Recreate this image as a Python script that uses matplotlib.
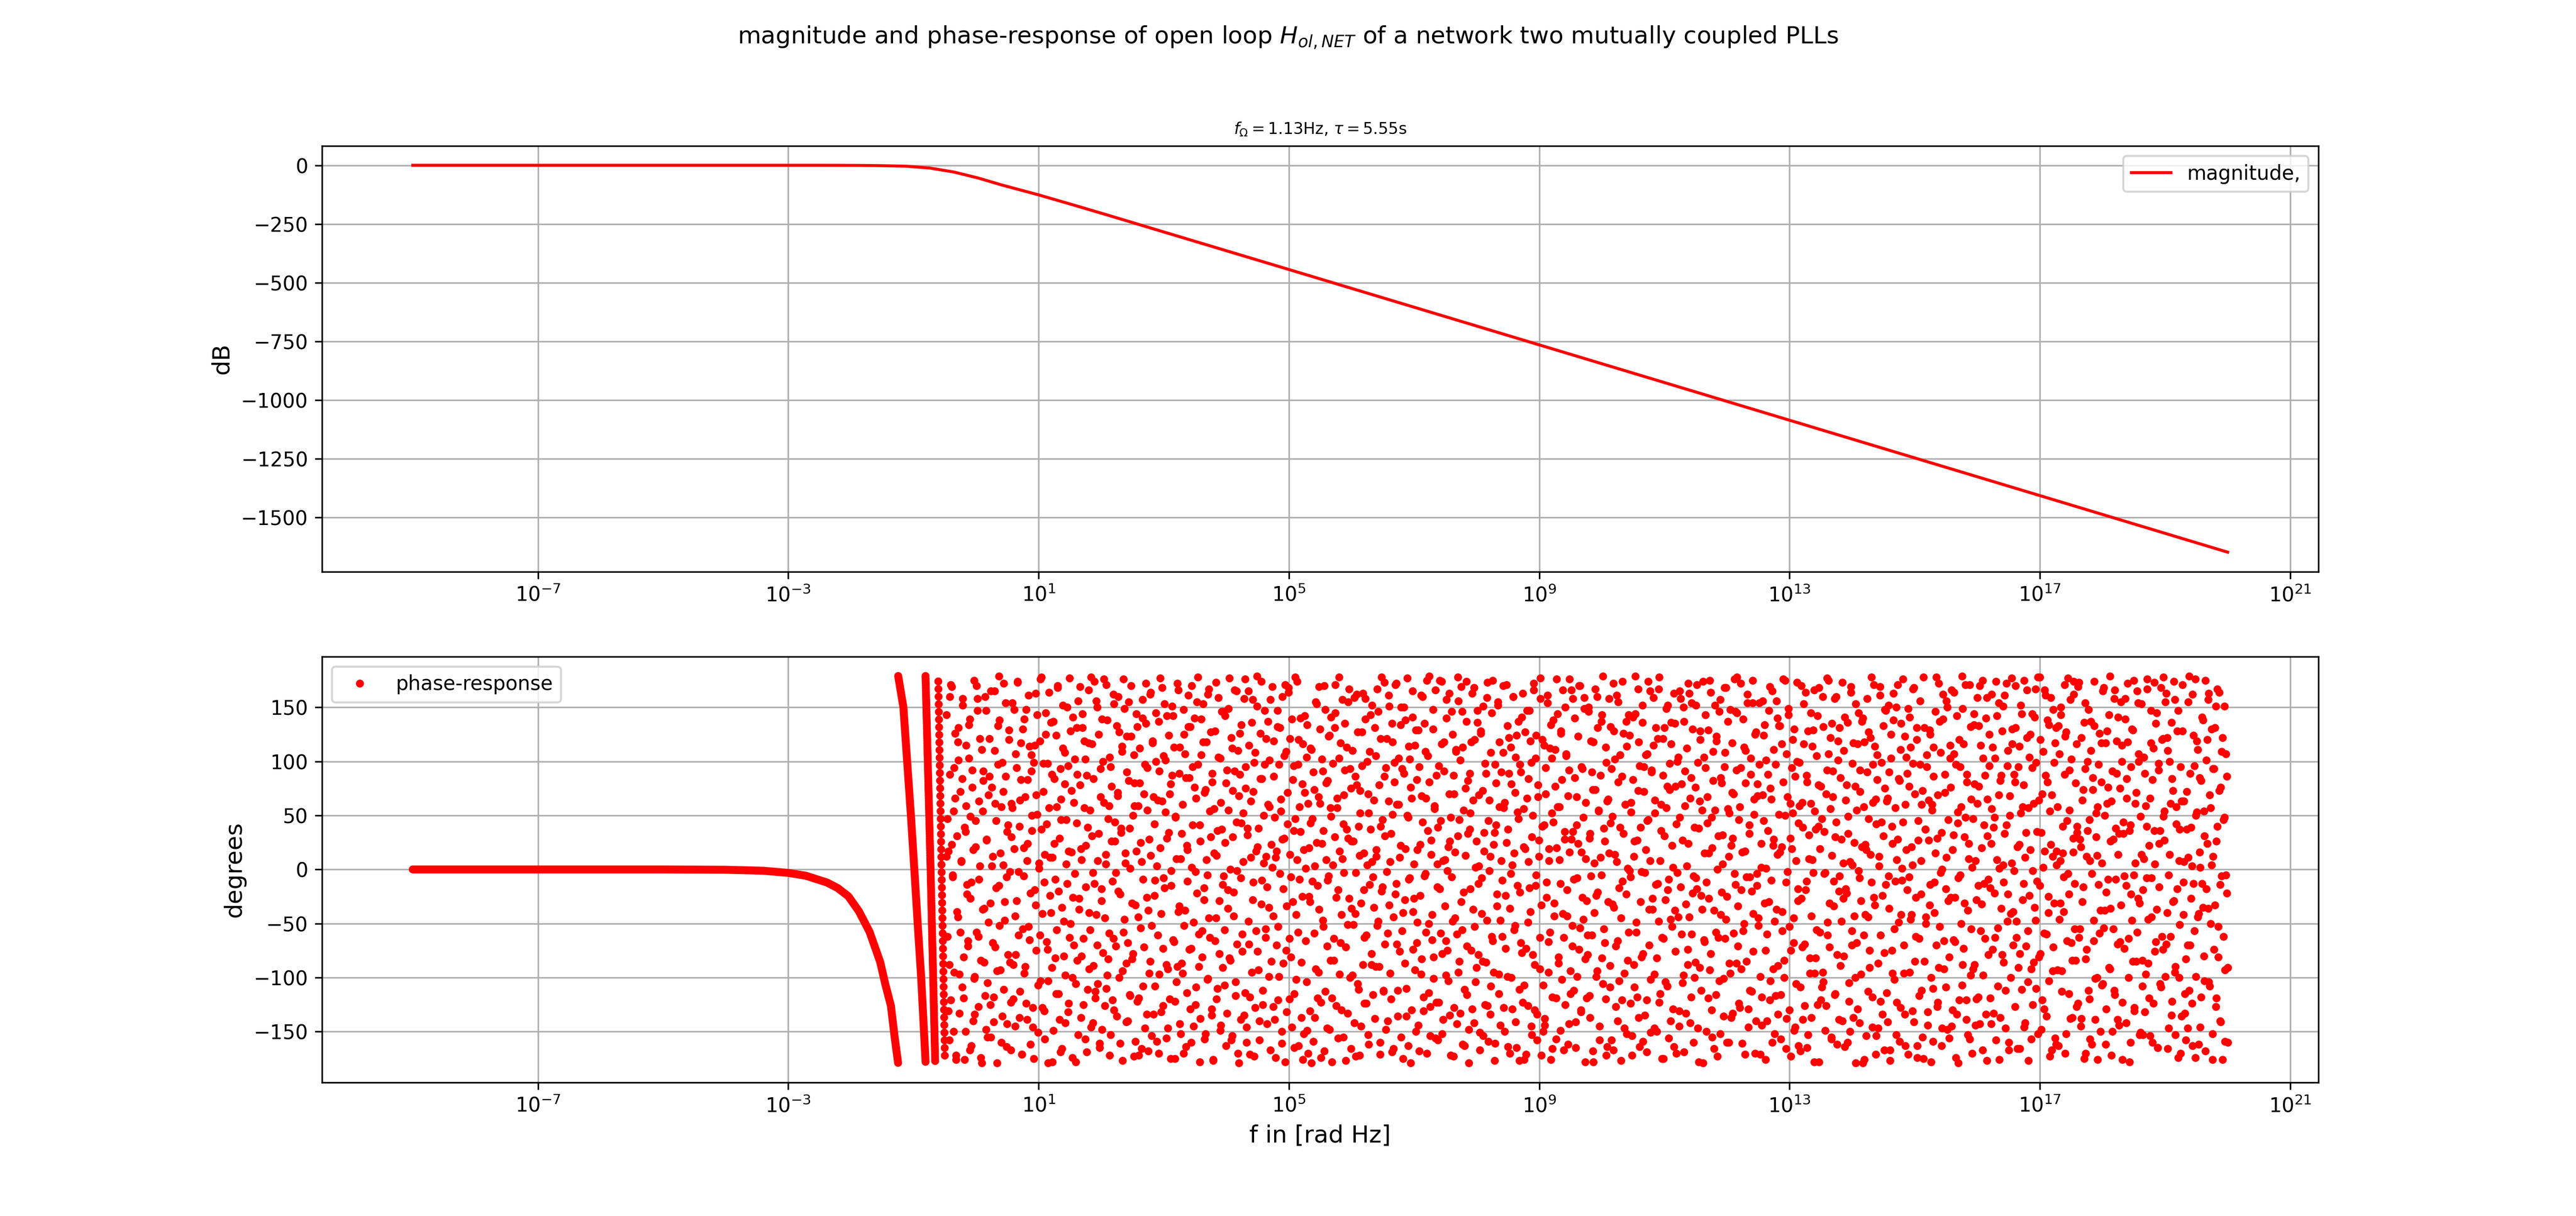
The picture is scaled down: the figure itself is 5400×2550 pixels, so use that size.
import numpy as np
import matplotlib
matplotlib.use('Agg')
import matplotlib.pyplot as plt

# magnitude of H_ol,NET: log10(f) and dB
mag_logf = [-9, -2.5, -1.9, -1.5, -1.113, -0.732, -0.35, 0.031, 0.412, 1.0,
            1.555, 2.089, 3, 5, 9, 13, 17, 20]
mag_db = [0, 0, -0.5, -1.8, -4, -12, -29, -54, -84, -126,
          -169, -211, -284, -444, -765, -1086, -1407, -1648]

# phase, first branch (0 down to -180 deg), log10(f) and degrees
ph1_logf = [-9, -5, -4, -3.4, -3.0, -2.72, -2.38, -2.21, -2.04, -1.87,
            -1.70, -1.53, -1.45, -1.36, -1.30, -1.245]
ph1_deg = [0, 0, -0.3, -1.2, -3.2, -5.8, -12.1, -17.2, -24.8, -38.8,
           -57.8, -85.8, -106, -126, -155, -179]

# second branch after the wrap (+180 down to -180)
ph2_logf = [-1.243, -1.16, -1.10, -1.04, -0.985, -0.932, -0.876, -0.831, -0.806]
ph2_deg = [179, 150, 100, 50, 0, -50, -100, -150, -178]

# third and fourth wraps, nearly vertical columns of dots
ph3_logf = [-0.806, -0.730, -0.652]
ph3_deg = [179, 10, -179]
ph4_logf = [-0.602, -0.497]
ph4_deg = [174, -175]

# the rest is a cloud of dots spread over +-180 deg, log10(f) from -0.47 to 20
# single dots cannot be read, these two lists are estimates of how they spread
cloud_logf = (-0.47, 20.0)
cloud_deg_a = [
    143, -62, 17, -158, 88, -121, 169, -7, 54, -95, 126, -176, 31, -44, 101, -133, 72, 8, -109, 158, -81, 39, -150, 115, -23,
    -66, 134, -167, 49, -12, 92, -140, 175, -99, 21, -58, 147, -127, 63, 3, -174, 111, -37, 82, -86, 160, -148, 27, -105, 69,
    121, -31, -155, 76, 12, -118, 165, -72, 45, -179, 97, -15, 138, -93, 58, -136, 4, 172, -47, 86, -164, 35, -79, 129, -2,
    -123, 61, 154, -88, 19, -145, 107, -29, 173, -61, 40, -113, 83, -171, 130, -6, -96, 67, 148, -139, 24, -53, 114, -162, 91,
    36, -128, 99, -19, 163, -75, 51, -151, 6, 119, -103, 178, -41, 72, -131, 14, 145, -67, 98, -179, 57, -24, 136, -91, 11,
    -149, 84, -9, 124, -56, 170, -115, 29, -169, 65, -35, 152, -80, 108, -142, 46, -13, 96, -124, 177, -50, 16, -100, 141, -70,
    102, -178, 43, -84, 156, -27, 78, -137, 9, 131, -64, 119, -157, 22, 87, -111, 166, -40, 55, -146, 116, -3, -89, 174, -119,
    -42, 150, -106, 33, -165, 93, -18, 139, -77, 62, -126, 5, 171, -98, 47, -59, 104, -153, 77, -11, 162, -130, 26, -71, 133,
    68, -20, 127, -161, 38, 109, -94, 176, -46, 15, -141, 90, -68, 155, -116, 1, 123, -83, 50, -173, 80, -33, 144, -122, 59,
    -172, 112, -54, 7, 157, -108, 70, -147, 135, -26, 94, -168, 28, -85, 164, -52, 117, -134, 42, -10, 100, -159, 64, 137, -97,
    20, -132, 168, -73, 105, -17, 53, -156, 142, -92, 34, -120, 79, -1, 151, -65, 113, -175, 48, -104, 172, -39, 89, -143, 10,
    -87, 60, -170, 125, -38, 85, -114, 18, 161, -74, 132, -160, 2, 95, -49, 140, -125, 66, -22, 178, -90, 41, -138, 106, -57,
    153, -28, 71, -152, 118, -5, -101, 167, -63, 30, -129, 81, -177, 56, 128, -45, 13, -110, 159, -78, 103, -144, 37, -14, 146,
    -107, 25, -163, 92, -36, 149, -82, 0, 122, -154, 73, -21, 166, -117, 44, -69, 110, -179, 88, -8, 134, -60, 52, -135, 176,
    75, -146, 32, -48, 115, -171, 63, -95, 157, -12, 99, -128, 17, 179, -76, 38, -158, 126, -32, 84, -112, 6, 147, -55, 121,
    -16, 137, -99, 58, -167, 23, 169, -43, 86, -139, 11, -70, 132, -121, 97, -4, 54, -150, 160, -87, 29, -178, 109, -34, 71,
    164, -120, 14, -81, 139, -30, 96, -165, 47, -102, 174, -58, 120, -9, 35, -137, 79, -176, 18, 142, -66, 104, -149, 61, -25,
    -131, 43, 111, -11, -159, 74, 3, -92, 153, -119, 67, -37, 130, -174, 24, 91, -53, 170, -113, 9, -147, 82, -6, 124, -84,
    49, -178, 98, -64, 30, 145, -126, 57, -19, 178, -97, 117, -42, 10, -155, 69, 135, -72, 37, -133, 155, -27, 93, -166, 26,
    110, -51, -142, 86, -3, 162, -106, 40, -172, 73, -31, 127, -88, 15, -124, 158, -61, 100, -153, 52, -14, 143, -78, 7, -116,
    -35, 131, -90, 12, 167, -48, 78, -160, 121, -20, 46, -112, 173, -69, 94, -2, -140, 63, 151, -96, 33, -169, 118, -44, 81,
    171, -13, 60, -136, 103, -76, 22, 150, -57, -175, 89, -28, 138, -110, 50, -163, 114, -8, 76, -130, 165, -39, 5, -93, 129,
    -68, 18, -144, 95, -24, 161, -83, 44, -118, 135, -4, 66, -170, 105, -50, 179, -127, 27, -65, 148, -101, 59, -156, 87, -16,
    39, -123, 175, -59, 116, -152, 8, 91, -34, -98, 140, -75, 21, 163, -135, 48, -7, 125, -173, 70, -45, 111, -143, 31, 156,
    -85, 101, -30, 146, -162, 55, -111, 13, 174, -71, 82, -148, 37, -18, 118, -129, 64, 168, -53, -104, 26, 136, -79, 3, -167,
    128, -41, 73, -154, 17, 98, -86, 159, -126, 45, -1, -134, 108, -62, 175, -95, 34, -161, 80, -23, 152, -115, 58, -47, 90,
    -10, 170, -128, 62, -73, 25, 133, -164, 89, -36, 113, -100, 4, 160, -56, 71, -141, 124, -15, 47, -177, 97, -68, 141, -123,
    56, -107, 19, -171, 147, -49, 84, -17, 119, -145, 30, -79, 166, -130, 103, -5, -158, 67, 12, -92, 177, -33, 120, -150, 41,
    -138, 94, -26, 154, -67, 8, 112, -176, 52, -118, 138, -43, 77, -157, 20, 144, -87, 58, -13, 128, -102, 166, -63, 35, -125,
    107, -19, 68, -143, 176, -94, 28, -52, 158, -112, 85, -165, 41, -8, 123, -74, 170, -132, 16, 93, -46, 149, -178, 62, -29,
    -61, 146, -117, 33, -6, 90, -168, 118, -40, 74, -99, 160, -21, 54, -145, 11, 137, -82, 179, -55, 26, -120, 99, -164, 65,
    15, -89, 132, -158, 49, 172, -35, 102, -127, 7, -66, 155, -103, 39, -177, 86, -11, 126, -147, 60, -23, 114, -84, 143, -1,
    -124, 53, -172, 83, 12, -109, 144, -58, 27, 167, -137, 96, -30, -81, 136, -159, 72, -3, 106, -121, 45, 174, -70, 8, -151,
    92, -37, 159, -97, 64, -14, -150, 121, -48, 178, -115, 36, -63, 87, -175, 131, -28, 57, -108, 152, -9, 74, -140, 116, -53,
    2, -164, 135, -76, 42, 100, -44, -131, 165, -16, 79, -105, 150, -169, 59, -32, 112, -88, 24, 163, -142, 85, -60, 130, -6,
    -100, 76, -8, 171, -147, 38, -91, 128, -24, 55, -179, 104, -67, 143, -12, 67, -119, 15, 175, -78, 48, -155, 109, -38, 152,
    -58, 119, -173, 31, -103, 157, -42, 80, 5, -136, 95, -64, 168, -25, 137, -160, 52, -96, 22, 117, -133, 70, -4, 146, -87,
    178, -71, 46, -128, 94, -19, -161, 139, -50, 17, 110, -85, 162, -146, 33, -7, 88, -113, 154, -41, 65, -170, 127, -15, 79,
    -45, 154, -99, 2, -144, 69, 124, -31, -176, 101, -60, 36, 147, -121, 75, -10, 165, -92, 28, -152, 97, -37, 140, -134, 51,
    133, -116, 21, -57, 176, -84, 50, -166, 107, -2, 149, -130, 61, -75, 19, 120, -45, -149, 86, -106, 173, -18, 43, 99, -168,
    -27, 62, -139, 116, -69, 164, -11, 81, -153, 32, -96, 145, -43, 9, 129, -178, 54, -82, 105, -125, 40, 168, -58, 77, -109,
    160, -104, 35, -3, -126, 92, -49, 175, -72, 122, -157, 13, 67, -34, 158, -115, 44, -162, 101, -20, 131, -89, 28, -140, 6,
    -80, 141, -18, 78, -160, 49, -122, 7, 169, -57, 98, -137, 25, -100, 153, -68, 116, -1, -142, 72, -29, 137, -179, 58, 118,
    23, -154, 90, -44, 127, -91, 14, 178, -118, 62, -26, 114, -171, 42, 83, -147, 3, 161, -61, 99, -134, 31, -77, 148, -14,
    -114, 66, 152, -36, -167, 103, -75, 24, 138, -102, 57, -153, 9, 171, -49, 82, -128, 135, -10, 44, -96, 123, -163, 18, 89,
    149, -7, -95, 113, -42, 4, 167, -141, 70, -62, 131, -174, 27, -117, 97, -23, 60, -155, 178, -85, 37, -44, 106, -132, 64,
    -33, 125, -178, 55, -110, 86, -12, 146, -70, 29, -123, 172, -53, 108, -163, 0, 139, -92, 71, -18, 156, -148, 46, -81, 115,
    76, -145, 18, -65, 164, -26, 97, -134, 43, -179, 120, -5, 58, -107, 149, -73, 30, 171, -121, 88, -38, 10, -157, 132, -55,
    -170, 47, 134, -88, 8, -120, 159, -15, 77, -143, 115, -32, 175, -98, 41, -64, 140, -177, 65, -9, 96, -119, 24, 162, -74,
    39, -22, 103, -158, 142, -54, 69, 1, -137, 87, -79, 151, -12, 33, -112, 172, -48, 110, -167, 50, -100, 6, 130, -39, 88,
    -127, 170, -63, 21, -91, 114, -166, 52, 144, -28, 78, -146, 11, -71, 166, -104, 57, -24, 125, -157, 94, -1, -86, 141, -47,
    99, -11, -152, 64, 178, -78, 34, -121, 109, -59, 17, 161, -136, 81, -40, 134, -173, 23, 69, -94, 148, -31, 117, -162, 4,
    -93, 133, -46, 8, 150, -113, 40, -7, 88, -170, 127, -66, 177, -23, 55, -138, 102, -84, 16, 162, -55, 80, -127, 34, 169,
    -63, 28, -145, 122, -30, 74, -175, 154, -83, 12, 100, -112, 46, -157, 137, -4, 85, -66, 174, -139, 30, -100, 58, -14, 126,
    -150, 81, 6, -106, 168, -38, 117, -129, 61, -9, 143, -92, 26, -172, 91, -55, 158, -116, 38, 119, -69, 14, -144, 75, -33,
    115, -176, 44, -73, 139, -15, 66, 172, -100, 36, -160, 95, -47, 129, -5, -131, 61, -85, 165, -27, 107, -153, 49, 153, -108,
    -19, 104, -132, 59, -8, 167, -87, 22, -154, 117, -44, 83, -124, 173, 5, -67, 145, -165, 92, -16, 36, -109, 120, -74, 178,
    54, -99, 163, -40, 110, -147, 14, -62, 136, -122, 73, -29, 157, -90, 42, 128, -174, 8, -51, 95, -136, 171, -12, 63, -115,
    -158, 37, -70, 155, -112, 89, -27, 3, -163, 124, -57, 176, -99, 53, 111, -41, 16, -146, 82, -13, 138, -80, 31, -168, 101,
    24, 157, -104, 69, -50, 130, -176, 12, 93, -33, 151, -119, 40, -81, 164, -140, 76, -6, 122, -62, 48, -159, 107, -22, -91,
]
cloud_deg_b = [
    12, 47, -131, -88, 160, 171, 23, -5, -150, 94, 66, -172, -39, 118, 131, -97, -58, 7, 84, 152, -119, -176, 35, 59, -14,
    -71, 103, 139, -27, -163, 76, 18, -101, -134, 45, 170, 158, -62, -9, 121, -84, -179, 54, 91, -36, -117, 147, 28, -155, -49,
    86, -125, 165, 3, -68, -141, 110, 61, -17, -94, 133, 179, -52, 15, -160, 99, 72, -111, -30, 154, -7, -143, 41, 120, -86,
    -167, 30, 57, -120, 148, -43, -79, 94, 174, -2, -137, 64, 117, -171, -55, 20, 139, -90, -124, 8, 83, 161, -65, -22, 106,
    50, -146, -175, 115, -33, 69, 143, -107, 1, -61, 176, 37, -128, 98, -12, -157, 125, 42, -74, -103, 164, 11, -40, 88, -178,
    137, 24, -82, -115, 58, 168, -20, -139, 93, 46, -166, 112, -48, 79, -98, 5, 150, -132, 17, -63, 128, 73, -174, -26, 62,
    -4, -106, 131, 88, -153, -37, 169, 19, -80, 144, -125, 57, 102, -16, -169, 39, 117, -92, -56, 178, 31, -142, 84, -13, -113,
    156, -70, 8, 125, -161, 67, -29, -148, 100, 176, -45, 14, -110, 138, -83, 59, -172, 95, 26, -121, -64, 153, 44, -3, -136,
    71, 160, -100, -23, 34, 114, -177, -58, 149, 6, -87, 123, -140, 82, 38, -117, 170, -31, -78, 106, 59, -159, 17, 132, -44,
    -119, 80, 25, -166, 140, -9, -72, 97, 172, -134, 55, -38, -96, 162, 13, -154, 119, 67, -24, -108, 145, 3, -61, -170, 91,
    177, -41, 63, -126, -8, 153, 101, -88, 29, -147, 124, 70, -175, -15, 87, 142, -67, -122, 49, 10, -90, 166, -34, 113, -152,
    33, -96, 148, -52, 107, -164, 22, -11, 132, 85, -129, -73, 170, 41, -145, 76, -2, -109, 155, 97, -60, -178, 26, 139, -81,
    118, -17, -157, 74, 9, -102, 162, -45, 54, 127, -135, 89, -176, 15, -66, 173, -120, 36, 104, -29, -149, 62, 146, -91, -6,
    -56, 142, 80, -133, -19, 55, 177, -84, -158, 112, 30, -43, 91, -104, 165, -1, -170, 68, 126, -139, 43, -76, 7, 158, -114,
    95, -160, 38, 165, -69, -118, 11, 136, -28, 72, -173, 108, -57, 151, 21, -93, -140, 84, 174, -10, -125, 50, 97, -63, 12,
    -143, 60, -35, 101, 157, -85, 2, -127, 119, 48, -174, 17, 147, -53, -99, 131, 65, -161, 28, -18, 105, 171, -75, -132, 42,
    168, -64, 121, -7, -146, 83, 36, -115, 178, -42, 9, 97, -163, 58, 140, -86, -25, 116, -152, 71, 1, -104, 134, -170, 20,
    -30, 112, -179, 47, 90, -59, -137, 155, 25, -15, -95, 169, 61, -123, 102, -47, 36, -168, 148, 80, -71, -10, 123, -148, 57,
    141, -119, 4, -84, 131, 171, -26, 66, -156, 103, 17, -68, -130, 157, 42, -3, 92, -177, 113, -51, 29, 167, -100, 75, -36,
    -98, 26, 159, -41, -173, 78, 127, -111, 13, 52, -145, 96, 163, -19, -63, 139, -124, 4, 70, -162, 109, 37, -88, 152, -7,
    64, -138, 105, 18, -52, 146, -90, -171, 40, 178, -16, -113, 86, 31, -148, 121, -59, 161, -33, 7, -120, 135, 51, -166, 99,
    -23, 172, -69, -112, 60, 11, 134, -155, 93, -40, 150, -87, 19, -136, 177, 48, -9, 102, -179, 66, 141, -74, -27, 115, -150,
    83, -49, 129, -168, 23, -97, 68, 160, -131, -6, 109, -58, 175, 36, -114, 81, -154, 14, -42, 130, -81, 56, 166, -123, 5,
    -158, 96, -18, 45, 174, -78, -139, 118, 9, -66, 157, -1, -103, 70, 26, -172, 146, -48, 87, -128, 16, 109, -60, 178, -95,
    46, -133, 169, -56, 113, -21, -163, 75, 137, -116, 33, -179, 89, 52, -75, 163, -37, -142, 120, 2, -91, 147, -13, 69, -151,
    126, -8, -85, 151, 34, -125, 89, -47, 173, -159, 64, 12, -108, 145, -66, 23, -177, 97, 41, -34, 155, -97, 118, -144, 8,
    -62, 108, 57, -150, -24, 171, -99, 37, 122, -170, -4, 79, -129, 160, 15, -52, 104, -165, 53, 137, -111, -21, 90, -77, 163,
    21, -176, 127, -73, 66, -126, 7, 147, -39, 99, -153, 50, 172, -88, -15, 124, -134, 78, 27, -63, 158, -172, 40, -107, 115,
    -144, 70, -12, 161, -95, 19, -58, 134, 103, -166, 44, -31, 111, -119, 176, 58, -81, 9, -149, 126, 83, -41, -167, 28, 150,
    105, -43, -162, 92, 16, -115, 166, -71, 35, -9, 140, -141, 67, -99, 24, 170, -54, -130, 95, -26, 48, 159, -83, 10, -119,
    -79, 150, 29, -137, 119, -61, 74, -178, 6, 167, -24, -94, 131, 55, -158, 87, -5, 143, -106, 38, -68, 113, -172, 63, -30,
    158, -109, 43, 93, -32, -167, 128, 14, -71, 161, -140, 81, -17, 106, -45, -121, 174, 33, -96, 60, 137, -152, 1, -58, 124,
    -7, 62, -154, 141, -88, 26, 179, -49, -118, 73, 118, -164, 39, -2, 152, -78, 95, -135, 18, -169, 107, 46, -37, 165, -102,
    90, -27, 115, -147, 52, 131, -82, -13, 167, -123, 8, 60, -175, 121, -64, 31, -104, 149, 77, -19, -156, 98, -46, 136, 22,
    -129, 163, -38, 77, -170, -3, 104, -145, 48, 158, -60, 27, -98, 137, 91, -133, 3, -74, 172, -44, 66, -118, 154, -22, -160,
    39, -86, 152, -18, 99, -178, 63, 120, -112, -37, 174, -65, 15, 94, -150, 43, 129, -27, -93, 164, -130, 20, 82, -166, 55,
    -116, 123, 0, -63, 146, -152, 85, -21, 32, -101, 168, 108, -46, -160, 56, 12, -87, 148, -137, 71, 29, -59, 176, -14, 92,
    145, -34, -124, 58, 172, -92, 16, -57, 113, -171, 80, -7, 154, -129, 41, -112, 103, -20, 175, -76, 51, 125, -140, -4, 68,
    -52, 97, -171, 24, -118, 156, 45, 134, -75, 1, -140, 88, -30, 169, -103, 65, -160, 22, 111, -48, -117, 156, 14, -89, 133,
    16, -157, 116, -39, 81, -100, 175, -12, -138, 67, 143, -53, 29, -173, 94, 52, -68, 130, -146, 8, 100, -29, -163, 59, -109,
    170, -72, 39, 153, -126, -19, 87, -165, 128, 10, -82, 61, -137, 114, -3, 166, -96, 37, -56, 142, 78, -178, 19, -121, 47,
    -95, 132, -4, -149, 70, 177, -61, 107, -31, 56, -155, 135, 91, -11, -116, 30, 160, -79, 119, -139, -6, 85, -48, 173, -27,
    110, -164, 64, -22, 136, 33, -105, -150, 164, -70, 4, 117, -43, 77, -179, 55, -129, 145, -8, 92, -97, 21, 140, -61, -176,
    -42, 18, 158, -113, 47, -75, 122, -12, -146, 97, 171, -33, 65, -154, 106, -87, 12, 169, -122, 44, -24, 133, -167, 75, 147,
    63, -141, -6, 90, -177, 125, 40, -96, 163, -55, -11, 150, -123, 28, 84, -159, 111, -42, 1, 176, -70, -134, 60, 104, -19,
    -171, 77, 141, -46, 21, -131, 98, 168, -85, -26, 120, -163, 45, -64, 156, 8, -112, 73, -175, 131, 37, -50, 95, -144, 27,
    129, -14, -100, 60, -159, 113, -40, 15, 178, -127, 69, -91, 137, -3, 34, -147, 162, -66, 88, -109, 11, 150, -29, -156, 103,
    -26, 166, -130, 32, 107, -67, -174, 142, 53, -8, -121, 95, -50, 179, -88, 116, -31, 48, -139, 81, -153, 24, 171, -98, 65,
    2, -92, 144, 79, -144, -28, 61, -118, 133, 170, -57, 20, -167, 103, -13, 87, -134, 159, 31, -79, 125, -17, -143, 56, 113,
    -133, 48, -63, 174, 9, -108, 154, -176, 82, -36, 128, 4, -86, 161, -147, 41, 96, -23, -160, 68, -41, 177, 116, -70, -1,
    81, 131, -48, -166, 95, 23, -78, 152, -111, 58, -13, 175, -142, 34, 122, -57, -177, 104, 18, -92, 144, -125, 61, -35, 167,
    -110, 35, 178, -81, -15, 120, -148, 70, 2, -129, 166, 87, -60, 138, -25, -103, 54, 159, -167, 12, -72, 99, -156, 131, 17,
    58, -163, 107, -31, 143, -94, 15, -39, 171, 123, -152, 45, -4, -115, 92, 157, -68, -137, 29, 174, -13, -84, 116, 40, -124,
    173, -55, 21, -138, 64, -16, 136, 93, -170, -74, 36, 148, -120, 8, 110, -162, 74, -47, 133, -101, 52, 13, -176, 97, -59,
    -38, 117, -107, 165, -54, 50, -162, -21, 128, 76, -91, 179, -36, 63, -150, 28, -112, 166, -9, 89, -139, 141, 33, -67, 155,
    100, -123, 33, -6, 158, -142, 84, 118, -64, -178, 41, -23, 130, -85, 175, -128, 6, 71, -58, 154, 100, -31, -151, 14, -84,
    -153, 10, 89, -97, 40, 176, -46, -119, 66, 147, -8, -160, 112, 36, -76, 135, -37, -165, 98, 24, -106, 168, -62, 121, 49,
    27, 155, -69, 122, -166, -5, 100, 61, -135, 84, -30, 174, -95, -153, 58, -18, 147, -100, 37, -170, 63, 128, -42, 7, -133,
    -83, 72, -147, 11, 179, -70, 39, -124, 162, -13, 96, -174, 50, 119, -44, -162, 85, 2, -118, 141, -35, 54, -103, 175, -18,
    120, -36, 163, -108, 57, 4, -152, 93, -74, 131, -127, 26, 167, -53, 73, -14, -141, 109, -176, 46, 151, -93, -5, 86, -160,
]

fig = plt.figure(figsize=(18, 8.5), dpi=300)
fig.suptitle(r'magnitude and phase-response of open loop $H_{ol,NET}$ of a network two mutually coupled PLLs')

ax1 = fig.add_subplot(211)
ax1.plot(10.0 ** np.array(mag_logf), mag_db, 'r-', label='magnitude,')
ax1.set_xscale('log')
ax1.set_title(r'$f_{\Omega}=1.13$Hz, $\tau=5.55$s', fontsize=8)
ax1.set_ylabel('dB', fontsize=12)
ax1.grid(True)
ax1.legend(loc='upper right')

ax2 = fig.add_subplot(212)
thick = dict(color='r', lw=4, solid_capstyle='round')
ax2.plot(10.0 ** np.array(ph1_logf), ph1_deg, **thick)
ax2.plot(10.0 ** np.array(ph2_logf), ph2_deg, **thick)
# dense and sparse dot columns: drawn as dotted lines with round dots
ax2.plot(10.0 ** np.array(ph3_logf), ph3_deg, color='r', lw=4,
         linestyle=(0, (0.001, 0.3)), dash_capstyle='round')
ax2.plot(10.0 ** np.array(ph4_logf), ph4_deg, color='r', lw=4,
         linestyle=(0, (0.001, 0.96)), dash_capstyle='round')
cloud_deg = cloud_deg_a + cloud_deg_b
cloud_f = np.concatenate([np.logspace(cloud_logf[0], cloud_logf[1], len(cloud_deg_a)),
                          np.logspace(cloud_logf[0], cloud_logf[1], len(cloud_deg_b))])
ax2.plot(cloud_f, cloud_deg, 'r.', label='phase-response')
ax2.set_xscale('log')
ax2.set_xlabel('f in [rad Hz]', fontsize=12)
ax2.set_ylabel('degrees', fontsize=12)
ax2.grid(True)
ax2.legend(loc='upper left')

fig.savefig('out.png', dpi=300)
